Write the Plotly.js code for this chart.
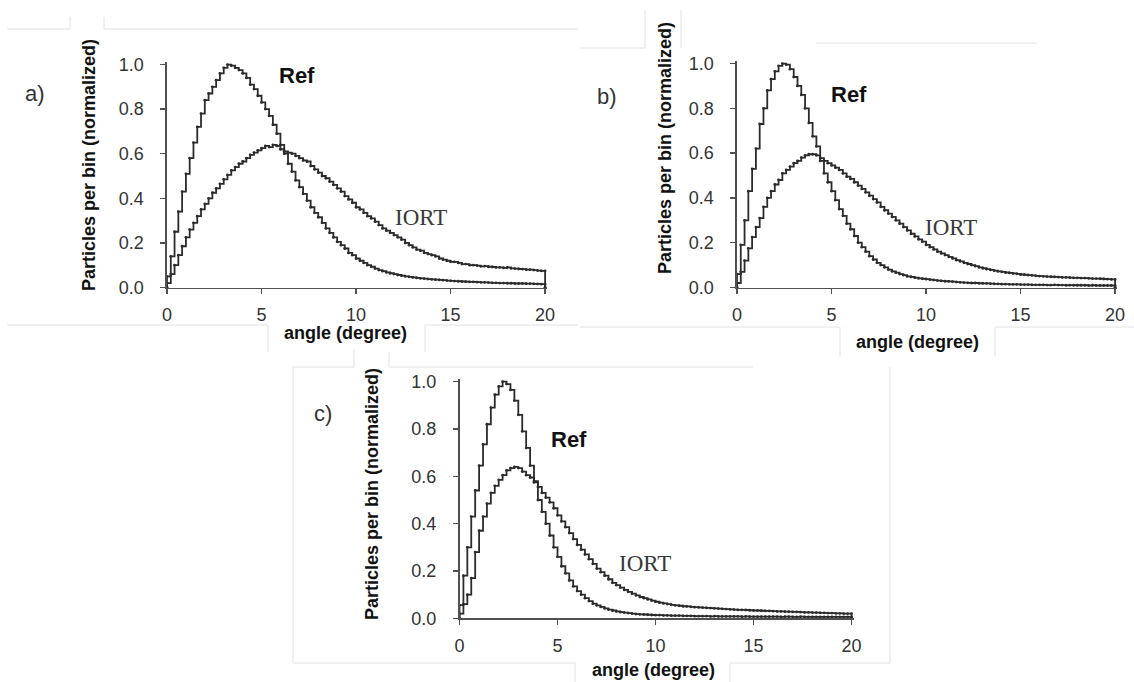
<!DOCTYPE html>
<html>
<head>
<meta charset="utf-8">
<script src="https://cdn.plot.ly/plotly-3.0.1.min.js"></script>
<style>
  html, body { margin: 0; padding: 0; background: #ffffff; }
  #chart { width: 1134px; height: 682px; }
</style>
</head>
<body>
<div id="chart"></div>
<script>
// ---- histogram bin grid (angle, degree) ----
const angleStart = 0;
const binWidth = 0.2;
const xTickVals = [0, 5, 10, 15, 20];
const yTickVals = [0, 0.2, 0.4, 0.6, 0.8, 1.0];
const yTickText = ["0.0", "0.2", "0.4", "0.6", "0.8", "1.0"];
const panelLetters = ["a)", "b)", "c)"];
const seriesNames = ["Ref", "IORT"];

// ---- panel a ----
const refA = [
  0.05, 0.14, 0.25, 0.34, 0.43, 0.51, 0.58, 0.65, 0.72, 0.78,
  0.84, 0.87, 0.90, 0.93, 0.96, 0.985, 1.0, 0.995, 0.985, 0.975,
  0.96, 0.94, 0.91, 0.89, 0.86, 0.83, 0.80, 0.77, 0.73, 0.69,
  0.64, 0.60, 0.555, 0.52, 0.48, 0.45, 0.42, 0.39, 0.36, 0.335,
  0.315, 0.29, 0.265, 0.245, 0.225, 0.205, 0.19, 0.175, 0.155, 0.145,
  0.13, 0.12, 0.11, 0.10, 0.093, 0.085, 0.078, 0.073, 0.068, 0.064,
  0.06, 0.056, 0.053, 0.05, 0.048, 0.045, 0.043, 0.041, 0.04, 0.038,
  0.036, 0.035, 0.034, 0.033, 0.031, 0.03, 0.029, 0.028, 0.027, 0.026,
  0.025, 0.025, 0.024, 0.023, 0.023, 0.022, 0.021, 0.021, 0.02, 0.02,
  0.019, 0.019, 0.018, 0.018, 0.018, 0.017, 0.017, 0.016, 0.016, 0.015
];
const iortA = [
  0.02, 0.06, 0.10, 0.145, 0.185, 0.225, 0.26, 0.29, 0.32, 0.35,
  0.375, 0.40, 0.425, 0.445, 0.465, 0.485, 0.505, 0.525, 0.54, 0.555,
  0.565, 0.58, 0.595, 0.605, 0.615, 0.625, 0.635, 0.63, 0.64, 0.635,
  0.62, 0.61, 0.605, 0.60, 0.59, 0.58, 0.57, 0.565, 0.545, 0.53,
  0.515, 0.50, 0.49, 0.475, 0.46, 0.445, 0.43, 0.41, 0.395, 0.38,
  0.36, 0.35, 0.335, 0.32, 0.31, 0.295, 0.28, 0.265, 0.255, 0.245,
  0.235, 0.225, 0.215, 0.20, 0.19, 0.18, 0.17, 0.165, 0.155, 0.15,
  0.145, 0.14, 0.13, 0.125, 0.12, 0.115, 0.115, 0.11, 0.105, 0.105,
  0.10, 0.10, 0.098, 0.095, 0.096, 0.093, 0.092, 0.09, 0.09, 0.088,
  0.09, 0.086, 0.085, 0.083, 0.082, 0.08, 0.08, 0.078, 0.076, 0.075
];

// ---- panel b ----
const refB = [
  0.06, 0.19, 0.30, 0.43, 0.53, 0.62, 0.73, 0.80, 0.88, 0.93,
  0.965, 0.99, 1.0, 0.995, 0.975, 0.94, 0.90, 0.86, 0.80, 0.735,
  0.675, 0.63, 0.565, 0.51, 0.47, 0.43, 0.39, 0.35, 0.32, 0.285,
  0.26, 0.23, 0.20, 0.18, 0.16, 0.14, 0.125, 0.11, 0.10, 0.09,
  0.08, 0.072, 0.066, 0.06, 0.055, 0.05, 0.047, 0.044, 0.041, 0.039,
  0.037, 0.035, 0.033, 0.031, 0.03, 0.028, 0.027, 0.026, 0.024, 0.023,
  0.022, 0.021, 0.02, 0.02, 0.019, 0.018, 0.018, 0.017, 0.016, 0.016,
  0.015, 0.015, 0.014, 0.014, 0.014, 0.013, 0.013, 0.013, 0.012, 0.012,
  0.012, 0.012, 0.011, 0.011, 0.012, 0.011, 0.011, 0.010, 0.011, 0.010,
  0.010, 0.010, 0.010, 0.009, 0.010, 0.009, 0.009, 0.009, 0.009, 0.009
];
const iortB = [
  0.02, 0.07, 0.12, 0.175, 0.225, 0.27, 0.31, 0.36, 0.40, 0.43,
  0.46, 0.48, 0.51, 0.525, 0.54, 0.555, 0.565, 0.58, 0.59, 0.595,
  0.595, 0.59, 0.578, 0.565, 0.555, 0.545, 0.535, 0.525, 0.51, 0.495,
  0.485, 0.47, 0.455, 0.44, 0.425, 0.41, 0.395, 0.38, 0.36, 0.345,
  0.33, 0.315, 0.30, 0.285, 0.27, 0.255, 0.24, 0.228, 0.215, 0.205,
  0.19, 0.18, 0.17, 0.16, 0.152, 0.145, 0.137, 0.13, 0.122, 0.117,
  0.11, 0.105, 0.10, 0.095, 0.09, 0.086, 0.082, 0.079, 0.075, 0.072,
  0.07, 0.067, 0.065, 0.063, 0.061, 0.058, 0.057, 0.055, 0.054, 0.052,
  0.051, 0.05, 0.049, 0.048, 0.047, 0.046, 0.045, 0.045, 0.044, 0.043,
  0.043, 0.042, 0.042, 0.041, 0.04, 0.04, 0.039, 0.038, 0.037, 0.036
];

// ---- panel c ----
const refC = [
  0.056, 0.18, 0.30, 0.43, 0.54, 0.645, 0.735, 0.82, 0.89, 0.945,
  0.98, 1.0, 0.99, 0.965, 0.92, 0.86, 0.79, 0.72, 0.645, 0.575,
  0.50, 0.45, 0.40, 0.35, 0.30, 0.26, 0.22, 0.19, 0.16, 0.135,
  0.115, 0.10, 0.085, 0.073, 0.062, 0.055, 0.048, 0.042, 0.037, 0.033,
  0.029, 0.026, 0.024, 0.022, 0.02, 0.018, 0.017, 0.016, 0.015, 0.014,
  0.013, 0.013, 0.012, 0.012, 0.011, 0.011, 0.011, 0.010, 0.010, 0.010,
  0.009, 0.009, 0.009, 0.009, 0.008, 0.009, 0.008, 0.008, 0.008, 0.008,
  0.008, 0.008, 0.007, 0.008, 0.007, 0.007, 0.007, 0.007, 0.007, 0.007,
  0.007, 0.007, 0.006, 0.007, 0.007, 0.006, 0.006, 0.007, 0.006, 0.006,
  0.006, 0.006, 0.006, 0.006, 0.006, 0.006, 0.006, 0.006, 0.006, 0.006
];
const iortC = [
  0.02, 0.06, 0.10, 0.17, 0.28, 0.37, 0.43, 0.485, 0.53, 0.56,
  0.585, 0.605, 0.625, 0.635, 0.64, 0.635, 0.62, 0.605, 0.595, 0.58,
  0.555, 0.53, 0.51, 0.49, 0.465, 0.435, 0.41, 0.385, 0.36, 0.335,
  0.31, 0.29, 0.27, 0.25, 0.23, 0.21, 0.195, 0.18, 0.165, 0.15,
  0.14, 0.13, 0.12, 0.112, 0.104, 0.097, 0.09, 0.085, 0.08, 0.075,
  0.07, 0.066, 0.063, 0.06, 0.057, 0.055, 0.053, 0.051, 0.05, 0.048,
  0.047, 0.046, 0.045, 0.044, 0.043, 0.042, 0.041, 0.04, 0.039, 0.038,
  0.037, 0.036, 0.036, 0.035, 0.034, 0.033, 0.033, 0.032, 0.031, 0.031,
  0.03, 0.029, 0.029, 0.028, 0.028, 0.027, 0.027, 0.026, 0.025, 0.025,
  0.024, 0.024, 0.023, 0.023, 0.022, 0.022, 0.021, 0.021, 0.02, 0.02
];

// ---------------------------------------------------------------
const W = 1134, H = 682;
const px = x => x / W;
const py = y => 1 - y / H;

const LINE = "#2b2b2b";
const AXIS = "#505050";
const SANS = "Liberation Sans, Arial, sans-serif";
const SERIF = "Liberation Serif, Times New Roman, serif";

// build a closed step outline from the bin heights
function stepTrace(vals, xa, ya) {
  const x = [angleStart], y = [0];
  vals.forEach((v, i) => { x.push(angleStart + i * binWidth); y.push(v); });
  const end = angleStart + vals.length * binWidth;
  x.push(end); y.push(vals[vals.length - 1]);
  x.push(end); y.push(0);
  return {
    type: "scatter", mode: "lines+markers", x, y, xaxis: xa, yaxis: ya,
    line: { shape: "hv", color: LINE, width: 1.8 },
    marker: { size: 2.8, color: LINE },
    cliponaxis: false, hoverinfo: "skip", showlegend: false
  };
}

const panels = [
  { ref: refA, iort: iortA, xa: "x",  ya: "y",  xd: [px(167), px(547)],   yd: [py(287.5), py(62.3)] },
  { ref: refB, iort: iortB, xa: "x2", ya: "y2", xd: [px(737), px(1117)],  yd: [py(287.5), py(61.3)] },
  { ref: refC, iort: iortC, xa: "x3", ya: "y3", xd: [px(459.5), px(853.5)], yd: [py(618.3), py(379.3)] }
];

const data = [];
panels.forEach(p => {
  data.push(stepTrace(p.ref, p.xa, p.ya));
  data.push(stepTrace(p.iort, p.xa, p.ya));
});

function xAxis(domain, anchor) {
  return {
    domain, anchor, range: [0, 20.1], tickvals: xTickVals,
    showline: true, linecolor: AXIS, linewidth: 1.6, mirror: false,
    ticks: "outside", ticklen: 5, tickwidth: 1.4, tickcolor: AXIS,
    showgrid: false, zeroline: false, fixedrange: true,
    ticklabelstandoff: 5,
    tickfont: { family: SANS, size: 18, color: "#333" }
  };
}
function yAxis(domain, anchor) {
  return {
    domain, anchor, range: [0, 1.01], tickvals: yTickVals, ticktext: yTickText,
    showline: true, linecolor: AXIS, linewidth: 1.6,
    ticks: "outside", ticklen: 5, tickwidth: 1.4, tickcolor: AXIS,
    showgrid: false, zeroline: false, fixedrange: true,
    ticklabelstandoff: 13,
    tickfont: { family: SANS, size: 18, color: "#333" }
  };
}

const ann = [];
function label(text, x, y, font, extra) {
  ann.push(Object.assign({ text, x: px(x), y: py(y), xref: "paper", yref: "paper",
    xanchor: "center", yanchor: "middle", showarrow: false, font }, extra || {}));
}
const titleFont = { family: SANS, size: 18, color: "#111", weight: "bold" };
const refFont = { family: SANS, size: 22, color: "#111", weight: "bold" };
const iortFont = { family: SERIF, size: 23, color: "#3a3a3a" };
const letterFont = { family: SANS, size: 22, color: "#333" };

// panel letters
label(panelLetters[0], 35, 94, letterFont);
label(panelLetters[1], 607, 97, letterFont);
label(panelLetters[2], 323, 413, letterFont);
// series labels
label("<b>" + seriesNames[0] + "</b>", 297, 75, refFont);
label("<b>" + seriesNames[0] + "</b>", 849, 95, refFont);
label("<b>" + seriesNames[0] + "</b>", 569, 439, refFont);
label(seriesNames[1], 421, 218, iortFont);
label(seriesNames[1], 951, 228, iortFont);
label(seriesNames[1], 645, 563, iortFont);
// axis titles
const yTitle = "<b>Particles per bin (normalized)</b>";
const xTitle = "<b>angle (degree)</b>";
label(yTitle, 89, 165, titleFont, { textangle: -90 });
label(yTitle, 665, 148, titleFont, { textangle: -90 });
label(yTitle, 372, 494, titleFont, { textangle: -90 });
label(xTitle, 345, 333, titleFont);
label(xTitle, 917, 342, titleFont);
label(xTitle, 653, 670, titleFont);

// faint scan-edge lines around the three panels
const edge = [
  [7, 29, 70, 29], [70, 17, 70, 29], [104, 17, 104, 29], [104, 29, 578, 29],
  [7, 325, 268, 325], [268, 325, 268, 352], [425, 325, 425, 352], [425, 325, 578, 325],
  [580, 48, 645, 48], [645, 10, 645, 48], [681, 10, 681, 48], [816, 43, 1037, 43],
  [580, 327, 840, 327], [840, 327, 840, 356], [995, 327, 995, 356], [995, 327, 1134, 327],
  [293, 367, 354, 367], [354, 350, 354, 367], [389, 352, 389, 367], [389, 367, 753, 367],
  [293, 367, 293, 663], [890, 367, 890, 663],
  [293, 663, 575, 663], [575, 663, 575, 682], [730, 663, 730, 682], [730, 663, 890, 663]
];
const shapes = edge.map(e => ({
  type: "line", xref: "paper", yref: "paper",
  x0: px(e[0]), y0: py(e[1]), x1: px(e[2]), y1: py(e[3]),
  line: { color: "#e2e2e2", width: 1 }, layer: "below"
}));

const layout = {
  width: W, height: H,
  margin: { l: 0, r: 0, t: 0, b: 0 },
  paper_bgcolor: "#ffffff", plot_bgcolor: "rgba(0,0,0,0)",
  showlegend: false,
  xaxis: xAxis(panels[0].xd, "y"),
  yaxis: yAxis(panels[0].yd, "x"),
  xaxis2: xAxis(panels[1].xd, "y2"),
  yaxis2: yAxis(panels[1].yd, "x2"),
  xaxis3: xAxis(panels[2].xd, "y3"),
  yaxis3: yAxis(panels[2].yd, "x3"),
  annotations: ann,
  shapes
};

Plotly.newPlot("chart", data, layout, { displayModeBar: false, staticPlot: true });
</script>
</body>
</html>
